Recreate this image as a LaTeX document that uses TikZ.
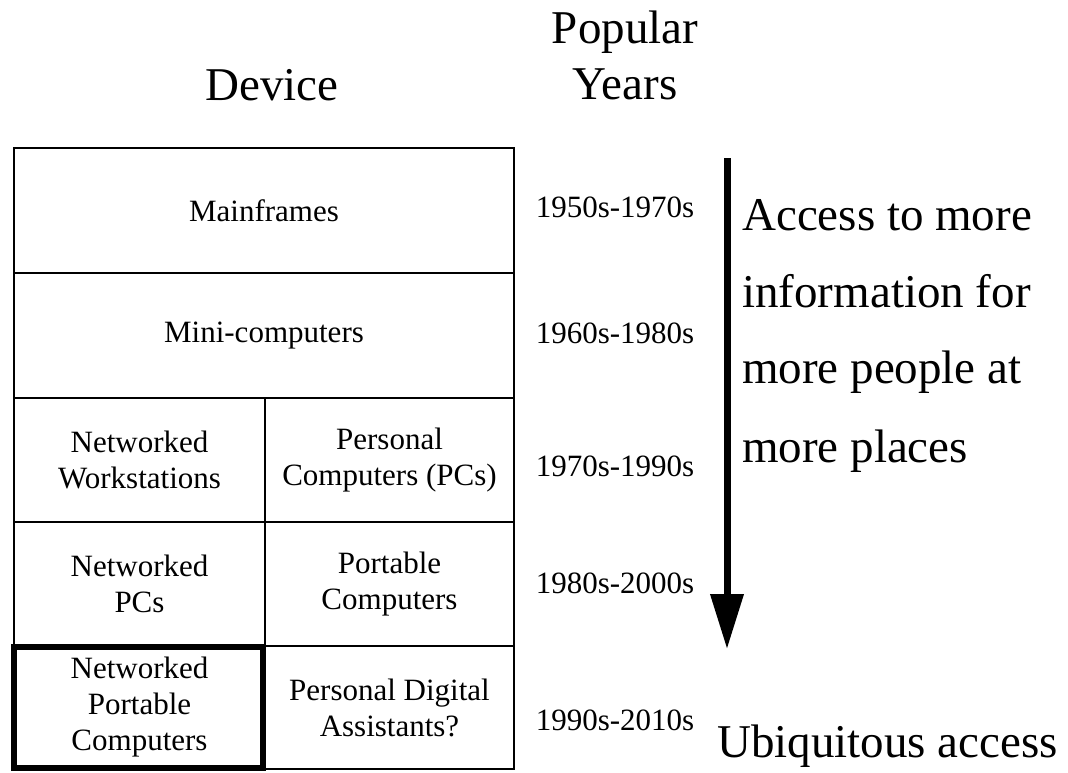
\documentclass[tikz,border=0pt]{standalone}
\usepackage{fontspec}
\setmainfont{Liberation Serif}
\usetikzlibrary{arrows.meta}
\tikzset{
  cell/.style={draw=black, line width=2.2pt, inner sep=0pt, align=center,
    font=\fontsize{31}{36}\selectfont},
  yearlbl/.style={inner sep=0pt, font=\fontsize{31}{36}\selectfont},
  head/.style={inner sep=0pt, anchor=base, font=\fontsize{47}{56}\selectfont},
  side/.style={inner sep=0pt, anchor=base west, font=\fontsize{47}{56}\selectfont},
  thickbox/.style={draw=black, line width=6pt, inner sep=0pt},
  bigarrow/.style={line width=7pt, -{Triangle[length=55pt,width=32pt]}}
}
\begin{document}
\begin{tikzpicture}[x=1pt,y=-1pt]
\useasboundingbox (0,0) rectangle (1068,772);
% headings
\node[head] (hdev) at (272,100) {Device};
\node[head] (hpop) at (625,43) {Popular};
\node[head] (hyrs) at (625,99) {Years};
% table cells
\node[cell, minimum width=500pt, minimum height=125pt] (c1) at (264,210.5) {Mainframes};
\node[cell, minimum width=500pt, minimum height=125pt] (c2) at (264,335.5) {Mini-computers};
\node[cell, minimum width=251pt, minimum height=124pt] (c3a) at (139.5,460) {Networked\\Workstations};
\node[cell, minimum width=249pt, minimum height=124pt] (c3b) at (389.5,460) {Personal\\Computers (PCs)};
\node[cell, minimum width=251pt, minimum height=124pt] (c4a) at (139.5,584) {Networked\\PCs};
\node[cell, minimum width=249pt, minimum height=124pt] (c4b) at (389.5,584) {Portable\\Computers};
\node[cell, minimum width=251pt, minimum height=123pt] (c5a) at (139.5,707.5) {Networked\\Portable\\Computers};
\node[cell, minimum width=249pt, minimum height=123pt] (c5b) at (389.5,707.5) {Personal Digital\\Assistants?};
\node[thickbox, minimum width=249pt, minimum height=121pt] (hl) at (138.5,707.5) {};
% years
\node[yearlbl] (y1) at (615,207) {1950s-1970s};
\node[yearlbl] (y2) at (615,333) {1960s-1980s};
\node[yearlbl] (y3) at (615,466) {1970s-1990s};
\node[yearlbl] (y4) at (615,583) {1980s-2000s};
\node[yearlbl] (y5) at (615,720) {1990s-2010s};
% arrow
\coordinate (atop) at (727,158);
\coordinate (abot) at (727,649);
\draw[bigarrow] (atop) -- (abot);
% side text
\node[side] (s1) at (742,230) {Access to more};
\node[side] (s2) at (742,307) {information for};
\node[side] (s3) at (742,383) {more people at};
\node[side] (s4) at (742,462) {more places};
\node[side] (s5) at (717,757) {Ubiquitous access};
\end{tikzpicture}
\end{document}
